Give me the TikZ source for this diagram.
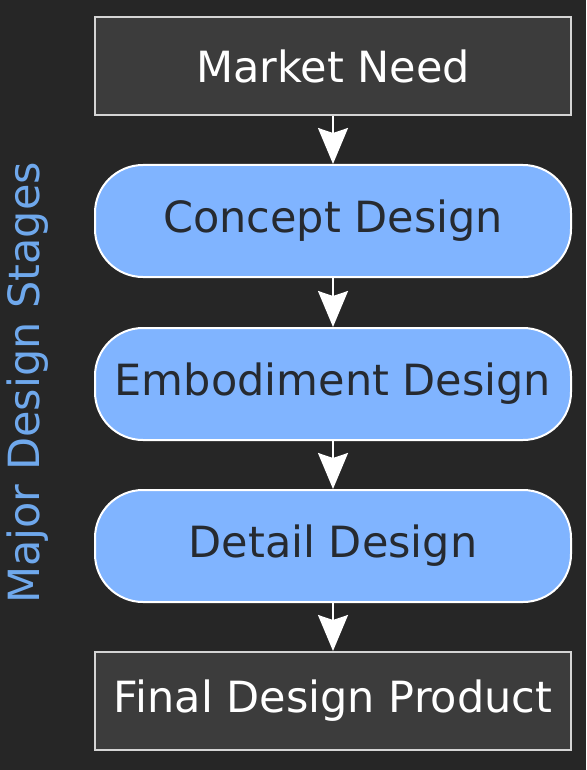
\documentclass[tikz,border=0pt]{standalone}
\usepackage{fontspec}
\setmainfont{DejaVu Sans}
\usetikzlibrary{arrows.meta}
\definecolor{bgdark}{HTML}{262626}
\definecolor{boxgray}{HTML}{3C3C3C}
\definecolor{boxline}{HTML}{D4D4D4}
\definecolor{stageblue}{HTML}{80B4FF}
\definecolor{stagetext}{HTML}{262A30}
\definecolor{labelblue}{HTML}{6FA8EC}
\begin{document}
\begin{tikzpicture}[x=1pt, y=-1pt,
		endbox/.style={draw=boxline, fill=boxgray, line width=2pt, text=white,
			minimum width=476pt, minimum height=98pt, inner sep=0pt,
			font=\fontsize{43}{50}\selectfont},
		stagebox/.style={draw=white, fill=stageblue, line width=2pt, text=stagetext,
			rounded corners=48pt, minimum width=476pt, minimum height=112pt, inner sep=0pt,
			font=\fontsize{43}{50}\selectfont},
		flow/.style={draw=white, line width=2pt,
			-{Stealth[length=36pt, width=30pt, inset=5pt]}}]

		\fill[bgdark] (0, 0) rectangle (586, 770);
		\useasboundingbox (0, 0) rectangle (586, 770);

		\node[endbox] (need) at (333, 66) {Market Need};
		\node[stagebox] (concept) at (333, 221) {Concept Design};
		\node[stagebox] (embodiment) at (333, 384) {Embodiment Design};
		\node[stagebox] (detail) at (333, 546) {Detail Design};
		\node[endbox] (final) at (333, 701) {Final Design Product};

		\node[rotate=90, text=labelblue, font=\fontsize{43}{50}\selectfont] (stages) at (28, 383) {Major Design Stages};

		\draw[flow] (need) -- (concept);
		\draw[flow] (concept) -- (embodiment);
		\draw[flow] (embodiment) -- (detail);
		\draw[flow] (detail) -- (final);

	\end{tikzpicture}
\end{document}
